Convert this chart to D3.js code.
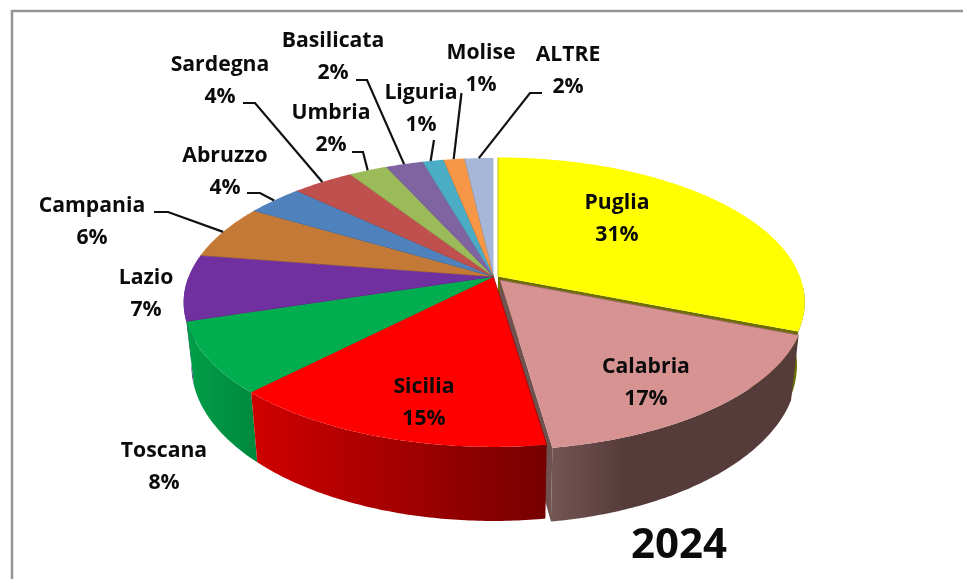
<!DOCTYPE html>
<html><head><meta charset="utf-8">
<script src="https://cdn.jsdelivr.net/npm/d3@7"></script>
<style>html,body{margin:0;padding:0;background:#fff;overflow:hidden}svg{display:block;filter:blur(0.35px)}
text{font-family:"Open Sans","Noto Sans",sans-serif;font-weight:700;fill:#0b0b0b;text-anchor:middle}</style>
</head><body><svg id="c" width="963" height="579"></svg>
<script>
// ---- data ----
const regions = ["Puglia","Calabria","Sicilia","Toscana","Lazio","Campania","Abruzzo","Sardegna","Umbria","Basilicata","Liguria","Molise","ALTRE"];
const shares  = [31.0,16.7,14.5,7.9,7.4,6.1,3.5,3.8,2.4,2.3,1.3,1.3,1.8];
const title = "2024";
// ---- styles ----
const topColors = ["#ffff00","#d69392","#ff0000","#00ae4f","#7030a0","#c47a36","#4f81bd","#c0504d","#9bbb59","#8064a2","#4bacc6","#f79646","#a7b7d8"];
const wallStops = {Puglia:["#6e6e00","#6e6e00"],Calabria:["#735553","#563b3b"],Sicilia:["#d00000","#760000"],Toscana:["#009e48","#008a3f"],Lazio:["#4d2480","#4d2480"]};
// ---- layout ----
const hub = {x:493.5,y:277}, R = 305, flat = 140, persp = 0.176, depth = 61, shrink = 0.975;
const offsets = {Puglia:[4.5,-0.5],Calabria:[6.5,3]};
const widthScale = {Puglia:0.99,Calabria:0.985};
const labelPos = {Puglia:[617,209],Calabria:[646,373],Sicilia:[424,393],Toscana:[164,457],Lazio:[146,284],Campania:[92,212],Abruzzo:[225,162],Sardegna:[220,71],Umbria:[331,119],Basilicata:[333,47],Liguria:[421,99],Molise:[481,59],ALTRE:[568,61]};
const lineGap = 32;
const leaders = {Campania:[[154,212],[168,212]],Abruzzo:[[247,193],[260,193]],Sardegna:[[243,103],[255,103]],Umbria:[[352,152],[363,152]],Basilicata:[[356,80],[367,80]],Liguria:[[434,140]],Molise:[[461.5,93]],ALTRE:[[542,93],[530,93]]};
const leaderFrac = {Liguria:0.4};

const svg = d3.select("#c");
const defs = svg.append("defs");
svg.append("path").attr("d","M12 579V11H963").attr("fill","none").attr("stroke","#959595").attr("stroke-width",2.5);

const sx = d3.scaleLinear().domain([-1,1]).range([hub.x-R,hub.x+R]);
const sy = d3.scaleLinear().domain([-1,1]).range([hub.y-flat,hub.y+flat]);
function proj(a,name,low){
  const u=Math.sin(a), v=-Math.cos(a), s=1/(1-persp*v), o=offsets[name]||[0,0], k=widthScale[name]||1;
  let x=sx(u*s*k)+o[0], y=sy(v*s)+o[1];
  if(low){ x=hub.x+(x-hub.x)*shrink; y+=depth*s; }
  return [x,y];
}
function hubPt(name,low){ const o=offsets[name]||[0,0]; return [hub.x+o[0], hub.y+o[1]+(low?depth*0.98:0)]; }
const line=d3.line();
const pie=d3.pie().sort(null).value(d=>d)(shares);
const slices=pie.map((p,i)=>({name:regions[i],val:shares[i],a0:p.startAngle,a1:p.endAngle,color:topColors[i]}));
const by=Object.fromEntries(slices.map(d=>[d.name,d]));
const arcPts=(d,low,f0,f1)=>{const a=f0??d.a0,b=f1??d.a1;const n=Math.max(4,Math.ceil((b-a)*90));return d3.range(n+1).map(k=>proj(a+(b-a)*k/n,d.name,low));};

function drawTop(d){
  const g=svg.append("g");
  g.append("path").attr("d",line([hubPt(d.name),...arcPts(d,false)])+"Z").attr("fill",d.color);
  g.append("path").attr("d",line([hubPt(d.name),proj(d.a0,d.name,false)])).attr("stroke",d3.color(d.color).darker(1)).attr("stroke-width",.9).attr("fill","none");
}
function drawWall(d){
  const a=Math.max(d.a0,Math.PI/2*1.05), b=Math.min(d.a1,Math.PI*1.5);
  const top=arcPts(d,false,a,b), low=arcPts(d,true,a,b).reverse();
  const xs=top.map(p=>p[0]);
  const id="w"+d.name, st=wallStops[d.name];
  const lg=defs.append("linearGradient").attr("id",id).attr("gradientUnits","userSpaceOnUse")
    .attr("x1",d3.min(xs)).attr("x2",d3.max(xs)).attr("y1",0).attr("y2",0);
  lg.append("stop").attr("offset",0).attr("stop-color",st[0]);
  lg.append("stop").attr("offset",d.name==="Calabria"?0.3:1).attr("stop-color",st[1]);
  svg.append("path").attr("d",line([...top,...low])+"Z").attr("fill",`url(#${id})`);
}
function drawRadial(d,a,color){
  const pts=[hubPt(d.name),proj(a,d.name,false),proj(a,d.name,true),hubPt(d.name,true)];
  svg.append("path").attr("d",line(pts)+"Z").attr("fill",color);
}
// back-to-front painting
drawWall(by.Puglia); drawRadial(by.Puglia,by.Puglia.a1,"#6e6e00"); drawTop(by.Puglia);
drawRadial(by.Calabria,by.Calabria.a1,"#6f5250"); drawWall(by.Calabria); drawTop(by.Calabria);
drawWall(by.Lazio); drawWall(by.Toscana);
slices.filter(d=>!["Puglia","Calabria","Sicilia"].includes(d.name)).reverse().forEach(drawTop);
drawWall(by.Sicilia); drawTop(by.Sicilia);

// leaders
Object.entries(leaders).forEach(([n,pts])=>{
  const d=by[n], f=leaderFrac[n]??0.5, end=proj(d.a0+(d.a1-d.a0)*f,n,false);
  svg.append("path").attr("d",line([...pts,end])).attr("fill","none").attr("stroke","#111").attr("stroke-width",2.2);
});
// labels
slices.forEach(d=>{
  const [x,y]=labelPos[d.name];
  const t=svg.append("text").attr("font-size",21.2);
  t.append("tspan").attr("x",x).attr("y",y).text(d.name);
  t.append("tspan").attr("x",x).attr("y",y+lineGap).text(Math.round(d.val)+"%");
});
svg.append("text").attr("x",679).attr("y",558).attr("font-size",42).text(title);
</script></body></html>
